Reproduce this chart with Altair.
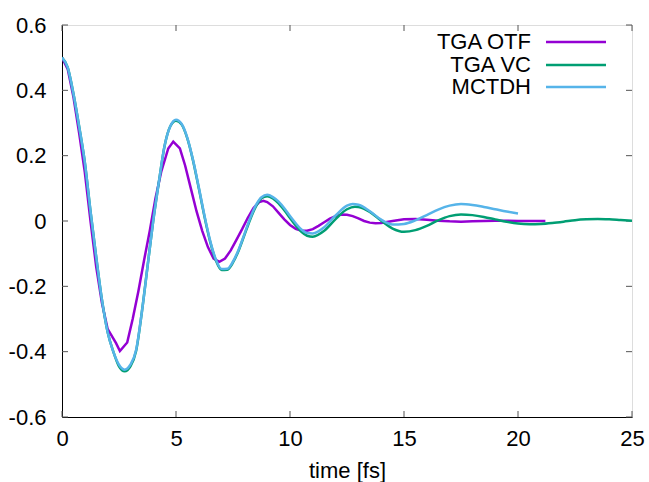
import altair as alt
import pandas as pd

FONT = "Liberation Sans"
FS = 22

# --- data ---
otf_t = [0.0, 0.25, 0.5, 0.75, 1.0, 1.25, 1.5, 1.75, 2.0, 2.37, 2.54, 2.86, 3.1, 3.35, 3.6, 3.85,
         4.1, 4.35, 4.66, 4.88, 5.17, 5.4, 5.65, 5.9, 6.15, 6.4, 6.65, 6.9, 7.15, 7.4, 7.65, 7.9,
         8.15, 8.4, 8.65, 8.83, 9.0, 9.25, 9.5, 9.75, 10.0, 10.25, 10.5, 10.75, 11.0, 11.25, 11.5,
         11.75, 12.0, 12.25, 12.5, 12.75, 13.0, 13.25, 13.5, 13.75, 14.0, 14.5, 15.0, 15.5, 16.0,
         16.5, 17.0, 17.5, 18.0, 18.5, 19.0, 19.5, 20.0, 20.5, 21.2]
otf_v = [0.5, 0.465, 0.38, 0.27, 0.15, 0.0, -0.14, -0.25, -0.33, -0.374, -0.398, -0.372, -0.3, -0.215,
         -0.12, -0.03, 0.07, 0.15, 0.222, 0.243, 0.222, 0.17, 0.1, 0.03, -0.03, -0.08, -0.115, -0.125,
         -0.115, -0.09, -0.058, -0.025, 0.01, 0.04, 0.058, 0.062, 0.058, 0.045, 0.025, 0.005, -0.012,
         -0.024, -0.03, -0.03, -0.025, -0.015, -0.004, 0.007, 0.015, 0.02, 0.019, 0.015, 0.008, 0.0,
         -0.005, -0.007, -0.006, 0.0, 0.005, 0.006, 0.004, 0.001, -0.001, -0.002, -0.001, 0.0, 0.001,
         0.001, 0.0, 0.0, 0.0]

vc_t = [0.0, 0.25, 0.5, 0.75, 1.0, 1.25, 1.5, 1.75, 2.0, 2.25, 2.5, 2.75, 3.0, 3.25, 3.5, 3.75,
        4.0, 4.25, 4.5, 4.75, 5.0, 5.25, 5.5, 5.75, 6.0, 6.25, 6.5, 6.75, 7.0, 7.25, 7.5, 7.75,
        8.0, 8.25, 8.5, 8.75, 9.0, 9.25, 9.5, 9.75, 10.0, 10.25, 10.5, 10.75, 11.0, 11.5, 12.0,
        12.5, 12.85, 13.0, 13.5, 14.0, 14.5, 15.0, 15.5, 16.0, 16.5, 17.0, 17.5, 18.0, 18.5, 19.0,
        19.5, 20.0, 20.5, 21.0, 21.5, 22.0, 22.5, 23.0, 23.5, 24.0, 24.5, 25.0]
vc_v = [0.5, 0.47, 0.39, 0.29, 0.18, 0.03, -0.11, -0.24, -0.34, -0.40, -0.445, -0.46, -0.445,
        -0.398, -0.28, -0.14, 0.0, 0.12, 0.23, 0.29, 0.307, 0.295, 0.252, 0.184, 0.1, 0.013,
        -0.064, -0.121, -0.15, -0.149, -0.127, -0.09, -0.043, 0.004, 0.044, 0.07, 0.076, 0.069,
        0.054, 0.033, 0.009, -0.014, -0.033, -0.045, -0.048, -0.03, 0.006, 0.036, 0.044, 0.043,
        0.028, 0.001, -0.023, -0.033, -0.028, -0.015, 0.002, 0.015, 0.02, 0.018, 0.0125, 0.005,
        -0.0025, -0.008, -0.01, -0.009, -0.006, -0.002, 0.0025, 0.005, 0.006, 0.005, 0.003, 0.001]

mc_t = [0.0, 0.25, 0.5, 0.75, 1.0, 1.25, 1.5, 1.75, 2.0, 2.25, 2.5, 2.75, 3.0, 3.25, 3.5, 3.75,
        4.0, 4.25, 4.5, 4.75, 5.0, 5.25, 5.5, 5.75, 6.0, 6.25, 6.5, 6.75, 7.0, 7.25, 7.5, 7.75,
        8.0, 8.25, 8.5, 8.75, 9.0, 9.25, 9.5, 9.75, 10.0, 10.25, 10.5, 10.75, 11.0, 11.5, 12.0,
        12.5, 12.75, 13.0, 13.5, 14.0, 14.5, 15.0, 15.5, 16.0, 16.5, 17.0, 17.5, 18.0, 18.5, 19.0,
        19.5, 20.0]
mc_v = [0.5, 0.47, 0.39, 0.29, 0.18, 0.03, -0.11, -0.24, -0.34, -0.40, -0.44, -0.455, -0.44,
        -0.395, -0.28, -0.14, 0.0, 0.12, 0.23, 0.29, 0.31, 0.297, 0.254, 0.186, 0.103, 0.016,
        -0.061, -0.118, -0.147, -0.146, -0.124, -0.087, -0.04, 0.008, 0.048, 0.073, 0.08, 0.073,
        0.059, 0.039, 0.015, -0.007, -0.026, -0.037, -0.038, -0.019, 0.017, 0.047, 0.052, 0.05,
        0.03, 0.004, -0.011, -0.009, 0.002, 0.018, 0.035, 0.047, 0.052, 0.049, 0.043, 0.036,
        0.029, 0.023]

series_names = ["TGA OTF", "TGA VC", "MCTDH"]
series_colors = ["#9400d3", "#009e73", "#56b4e9"]

x_ticks = [0, 5, 10, 15, 20, 25]
y_ticks = [-0.6, -0.4, -0.2, 0.0, 0.2, 0.4, 0.6]

W, H = 570, 392

xscale = alt.Scale(domain=[0, 25], nice=False, zero=False)
yscale = alt.Scale(domain=[-0.6, 0.6], nice=False, zero=False)

ylabel_expr = "datum.value == 0 ? '0' : (datum.value < 0 ? '-' : '') + format(abs(datum.value), '.1f')"

X_AXIS = alt.Axis(values=x_ticks, ticks=False, grid=False, labelFontSize=FS, labelFont=FONT,
                  labelPadding=11, titleFontSize=FS, titleFont=FONT, titleFontWeight="normal",
                  titlePadding=11, domainColor="black", labelColor="black", titleColor="black",
                  labelFlush=False)
Y_AXIS = alt.Axis(values=y_ticks, ticks=False, grid=False, labelFontSize=FS, labelFont=FONT,
                  labelPadding=16, labelExpr=ylabel_expr, domainColor="black",
                  labelColor="black", labelFlush=False)


def xenc(field="t"):
    return alt.X(f"{field}:Q", scale=xscale, title="time [fs]", axis=X_AXIS)


def yenc(field="v"):
    return alt.Y(f"{field}:Q", scale=yscale, title=None, axis=Y_AXIS)


def line_layer(t, v, color, interp):
    df = pd.DataFrame({"t": t, "v": v})
    return alt.Chart(df).mark_line(color=color, strokeWidth=2.5, interpolate=interp, clip=True).encode(
        x=xenc(), y=yenc())


yt_df = pd.DataFrame({"v": y_ticks})
xt_df = pd.DataFrame({"t": x_ticks})
tick_color = "#555555"
ticks_left = alt.Chart(yt_df).mark_rule(color=tick_color, strokeWidth=1).encode(
    y=yenc(), x=alt.value(0), x2=alt.value(6))
ticks_right = alt.Chart(yt_df).mark_rule(color=tick_color, strokeWidth=1).encode(
    y=yenc(), x=alt.value(W - 6), x2=alt.value(W))
ticks_bottom = alt.Chart(xt_df).mark_rule(color=tick_color, strokeWidth=1).encode(
    x=xenc(), y=alt.value(H - 6), y2=alt.value(H))
ticks_top = alt.Chart(xt_df).mark_rule(color=tick_color, strokeWidth=1).encode(
    x=xenc(), y=alt.value(0), y2=alt.value(6))

otf = line_layer(otf_t, otf_v, series_colors[0], "linear")
vc = line_layer(vc_t, vc_v, series_colors[1], "monotone")
mc = line_layer(mc_t, mc_v, series_colors[2], "monotone")

legend_rows = [17, 40, 62]
legend_layers = []
for i, name in enumerate(series_names):
    ldf = pd.DataFrame({"label": [name]})
    legend_layers.append(
        alt.Chart(ldf).mark_text(align="right", baseline="middle", fontSize=FS, font=FONT, color="black").encode(
            x=alt.value(469), y=alt.value(legend_rows[i]), text="label:N"))
    legend_layers.append(
        alt.Chart(ldf).mark_rule(color=series_colors[i], strokeWidth=2.5).encode(
            x=alt.value(484), x2=alt.value(544), y=alt.value(legend_rows[i])))

chart = alt.layer(
    ticks_left, ticks_right, ticks_bottom, ticks_top, otf, vc, mc, *legend_layers
).properties(
    width=W, height=H,
    autosize=alt.AutoSizeParams(type="none"),
    padding={"left": 62, "top": 25, "right": 17, "bottom": 65},
).configure_view(
    stroke="black", strokeWidth=1
).configure(background="white")

chart.save("out.html", embed_options={"renderer": "svg", "actions": False})
